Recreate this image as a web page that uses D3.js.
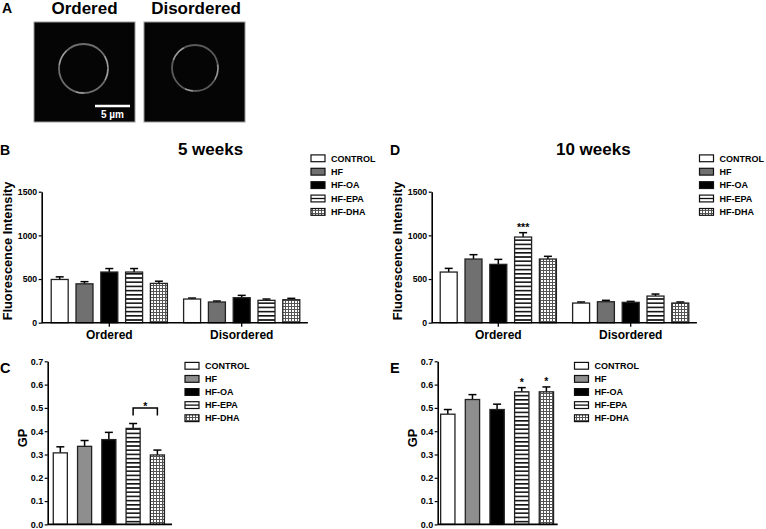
<!DOCTYPE html>
<html><head><meta charset="utf-8">
<script src="https://cdn.jsdelivr.net/npm/d3@7/dist/d3.min.js"></script>
<style>
body{margin:0;background:#fff;}
text{font-family:"Liberation Sans",Arial,Helvetica,sans-serif;font-weight:bold;fill:#000;}
</style></head><body>
<script>
// ---------- data ----------
const groups = ["CONTROL","HF","HF-OA","HF-EPA","HF-DHA"];
const domains = ["Ordered","Disordered"];
const fiTicks = [0,500,1000,1500];
const gpTicks = [0,0.1,0.2,0.3,0.4,0.5,0.6,0.7];

// Fluorescence intensity, 5 weeks (mean, SEM) : [Ordered], [Disordered]
const fi5Mean = [[495,445,580,580,450],[271,237,286,256,263]];
const fi5Err  = [[30,25,40,40,25],[11,11,27,15,16]];
// Fluorescence intensity, 10 weeks
const fi10Mean = [[580,729,668,981,729],[225,240,233,305,225]];
const fi10Err  = [[42,50,57,50,31],[12,16,11,23,12]];
const fi10Sig  = [["","","","***",""],["","","","",""]];
// GP, 5 weeks
const gp5Mean = [0.307,0.335,0.364,0.412,0.298];
const gp5Err  = [0.026,0.025,0.031,0.021,0.021];
const gp5Bracket = {from:"HF-EPA", to:"HF-DHA", level:0.50, label:"*"};
// GP, 10 weeks
const gp10Mean = [0.473,0.536,0.493,0.569,0.569];
const gp10Err  = [0.020,0.021,0.023,0.018,0.021];
const gp10Sig  = ["","","","*","*"];

// ---------- drawing ----------
const svg = d3.select("body").append("svg").attr("width",766).attr("height",529);
svg.append("rect").attr("width",766).attr("height",529).attr("fill","#fff");
const defs = svg.append("defs");
const st = defs.append("pattern").attr("id","stripes").attr("patternUnits","userSpaceOnUse").attr("width",6).attr("height",4.2);
st.append("rect").attr("width",6).attr("height",4.2).attr("fill","#fff");
st.append("rect").attr("width",6).attr("height",1.6).attr("fill","#111");
const gr = defs.append("pattern").attr("id","grid").attr("patternUnits","userSpaceOnUse").attr("width",3).attr("height",3);
gr.append("rect").attr("width",3).attr("height",3).attr("fill","#fff");
gr.append("rect").attr("width",3).attr("height",1).attr("fill","#555");
gr.append("rect").attr("width",1).attr("height",3).attr("fill","#555");
defs.append("filter").attr("id","blur").append("feGaussianBlur").attr("stdDeviation",0.7);

function fills(hfGray){ return {"CONTROL":"#fff","HF":hfGray,"HF-OA":"#000","HF-EPA":"url(#stripes)","HF-DHA":"url(#grid)"}; }

function legend(x, y0, dy, hfGray){
  const g = svg.append("g");
  const f = fills(hfGray);
  groups.forEach((k,i)=>{
    const cy = y0 + i*dy;
    g.append("rect").attr("x",x).attr("y",cy-3.4).attr("width",14).attr("height",6.8)
      .attr("fill", k==="HF-EPA" ? "#fff" : f[k]).attr("stroke","#111").attr("stroke-width",1.2);
    if(k==="HF-EPA") g.append("line").attr("x1",x).attr("x2",x+14).attr("y1",cy).attr("y2",cy).attr("stroke","#111").attr("stroke-width",1.3);
    g.append("text").attr("x",x+20).attr("y",cy).attr("dy","0.36em").attr("font-size",9).text(k);
  });
}

function yAxis(y, x, ticks, fmt, fs){
  const ax = svg.append("g").attr("transform",`translate(${x},0)`)
    .call(d3.axisLeft(y).tickValues(ticks).tickFormat(fmt).tickSize(3).tickSizeOuter(0).tickPadding(1.5));
  ax.select(".domain").attr("stroke","#000").attr("stroke-width",1.6);
  ax.selectAll(".tick line").attr("stroke","#000").attr("stroke-width",1.2);
  ax.selectAll(".tick text").attr("font-size",fs).style("font-weight","bold");
  ax.attr("font-family",null);
}

function bars(xPos, bw, y, means, errs, hfGray, sig){
  const f = fills(hfGray);
  const g = svg.append("g");
  groups.forEach((k,i)=>{
    const x = xPos(k), v = means[i], e = errs[i];
    const cx = x + bw/2;
    g.append("line").attr("x1",cx).attr("x2",cx).attr("y1",y(v)).attr("y2",y(v+e)).attr("stroke","#000").attr("stroke-width",1.5);
    g.append("line").attr("x1",cx-4).attr("x2",cx+4).attr("y1",y(v+e)).attr("y2",y(v+e)).attr("stroke","#000").attr("stroke-width",1.5);
    g.append("rect").attr("x",x).attr("y",y(v)).attr("width",bw).attr("height",y(0)-y(v))
      .attr("fill",f[k]).attr("stroke","#222").attr("stroke-width",1.3);
    if(sig && sig[i]) g.append("text").attr("x",cx).attr("y",y(v+e)-1.5).attr("text-anchor","middle").attr("font-size",10.5).text(sig[i]);
  });
}

function fiPanel(o){
  const y = d3.scaleLinear().domain([0,1500]).range([322.7,191.7]);
  const xg = d3.scaleBand().domain(domains).range(o.range);
  const xi = d3.scaleBand().domain(groups).range([0,xg.bandwidth()]).paddingInner(0.315).paddingOuter(0.327);
  domains.forEach((d,j)=>{
    bars(k=>xg(d)+xi(k), xi.bandwidth(), y, o.mean[j], o.err[j], "#707070", o.sig ? o.sig[j] : null);
  });
  svg.append("line").attr("x1",o.axisX).attr("x2",o.range[1]).attr("y1",y(0)).attr("y2",y(0)).attr("stroke","#000").attr("stroke-width",1.6);
  const xa = svg.append("g").attr("transform",`translate(0,${y(0)})`)
    .call(d3.axisBottom(xg).tickSize(4).tickPadding(3.6));
  xa.select(".domain").remove();
  xa.selectAll(".tick line").attr("stroke","#000").attr("stroke-width",1.3);
  xa.selectAll(".tick text").attr("font-size",12).style("font-weight","bold");
  xa.attr("font-family",null);
  yAxis(y, o.axisX, fiTicks, d3.format("d"), 8.7);
  svg.append("text").attr("transform",`translate(${o.labelX},251) rotate(-90)`).attr("text-anchor","middle")
    .attr("dy","0.36em").attr("font-size",12.8).text("Fluorescence Intensity");
}

function gpPanel(o){
  const y = d3.scaleLinear().domain([0,0.7]).range([524.4,361.3]);
  const x = d3.scaleBand().domain(groups).range(o.range).paddingInner(0.42).paddingOuter(o.po);
  bars(k=>x(k), x.bandwidth(), y, o.mean, o.err, "#8e8e8e", o.sig);
  svg.append("line").attr("x1",o.range[0]).attr("x2",o.axisEnd).attr("y1",y(0)).attr("y2",y(0)).attr("stroke","#000").attr("stroke-width",1.6);
  yAxis(y, o.range[0], gpTicks, d3.format(".1f"), 9);
  svg.append("text").attr("transform",`translate(${o.labelX},438) rotate(-90)`).attr("text-anchor","middle")
    .attr("dy","0.36em").attr("font-size",12.8).text("GP");
  if(o.bracket){
    const b = o.bracket;
    const x1 = x(b.from)+x.bandwidth()/2, x2 = x(b.to)+x.bandwidth()/2, yb = y(b.level);
    svg.append("path").attr("d",`M${x1},${yb+7.7}V${yb}H${x2}V${yb+7.7}`).attr("fill","none").attr("stroke","#000").attr("stroke-width",1.5);
    svg.append("text").attr("x",(x1+x2)/2).attr("y",yb+1.8).attr("text-anchor","middle").attr("font-size",10.5).text(b.label);
  }
}

// ---- Panel A (micrographs) ----
svg.append("text").attr("x",2).attr("y",13.3).attr("font-size",14).text("A");
[["Ordered",34,84.5,83.5,68.5,24.5,"#6c6c6c"],["Disordered",144,196,195,68,23,"#5a5a5a"]].forEach(([t,x,tx,cx,cy,r,c])=>{
  svg.append("text").attr("x",tx).attr("y",14).attr("text-anchor","middle").attr("font-size",17).text(t);
  svg.append("rect").attr("x",x).attr("y",22).attr("width",101).attr("height",100).attr("fill","#050505").attr("stroke","#9a9a9a").attr("stroke-width",1);
  svg.append("circle").attr("cx",cx).attr("cy",cy).attr("r",r).attr("fill","none").attr("stroke",c).attr("stroke-width",1.8).attr("filter","url(#blur)");
  svg.append("circle").attr("cx",cx).attr("cy",cy).attr("r",r).attr("fill","none").attr("stroke","#b0b0b0").attr("stroke-width",1.3)
    .attr("stroke-dasharray","12 26 8 34 16 44").attr("filter","url(#blur)").attr("opacity",0.75);
});
svg.append("line").attr("x1",95).attr("x2",130).attr("y1",106).attr("y2",106).attr("stroke","#fff").attr("stroke-width",2.5);
svg.append("text").attr("x",112.5).attr("y",117.5).attr("text-anchor","middle").attr("font-size",10).style("fill","#fff").text("5 µm");

// ---- Panel B ----
svg.append("text").attr("x",0).attr("y",155).attr("font-size",14).text("B");
svg.append("text").attr("x",210.5).attr("y",155).attr("text-anchor","middle").attr("font-size",17).text("5 weeks");
fiPanel({range:[43.1,307.9], axisX:41.7, mean:fi5Mean, err:fi5Err, labelX:7.5});
legend(311, 158.3, 13.4, "#707070");

// ---- Panel D ----
svg.append("text").attr("x",390).attr("y",155).attr("font-size",14).text("D");
svg.append("text").attr("x",593.3).attr("y",155).attr("text-anchor","middle").attr("font-size",17).text("10 weeks");
fiPanel({range:[432.1,696.9], axisX:431.7, mean:fi10Mean, err:fi10Err, sig:fi10Sig, labelX:397.5});
legend(699.5, 158.3, 13.4, "#707070");

// ---- Panel C ----
svg.append("text").attr("x",0).attr("y",373.3).attr("font-size",14.5).text("C");
gpPanel({range:[47.7,170], po:0.23, axisEnd:172, mean:gp5Mean, err:gp5Err, labelX:22, bracket:gp5Bracket});
legend(185, 365.8, 13.1, "#8e8e8e");

// ---- Panel E ----
svg.append("text").attr("x",390).attr("y",373.3).attr("font-size",14.5).text("E");
gpPanel({range:[437.7,556.5], po:0.12, axisEnd:557.7, mean:gp10Mean, err:gp10Err, sig:gp10Sig, labelX:412});
legend(574.5, 365.8, 13.1, "#8e8e8e");
</script></body></html>
